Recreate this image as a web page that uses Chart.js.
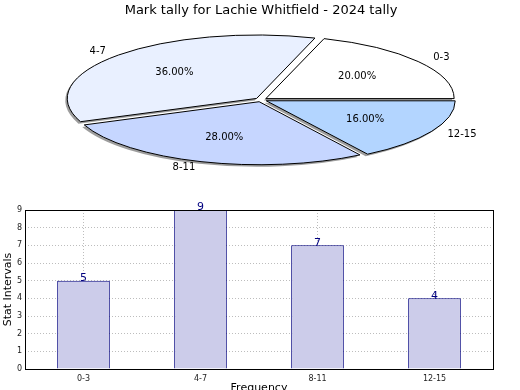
<!DOCTYPE html>
<html>
<head>
<meta charset="utf-8">
<script src="https://cdn.jsdelivr.net/npm/chart.js@4.4.1/dist/chart.umd.min.js"></script>
<style>
    html, body { margin: 0; padding: 0; background: #fff; overflow: hidden; width: 520px; height: 390px; }
    #boitePie { position: absolute; left: 0; top: 0; width: 520px; height: 190px; }
    #boiteBar { position: absolute; left: 0; top: 190px; width: 520px; height: 215px; }
</style>
</head>
<body>
<div id="boitePie"><canvas id="graphPie"></canvas></div>
<div id="boiteBar"><canvas id="graphBar"></canvas></div>
<script>
// ============================================
// Données
// ============================================
var titre = "Mark tally for Lachie Whitfield - 2024 tally";
var intervalles = ["0-3", "4-7", "8-11", "12-15"];
var frequences = [5, 9, 7, 4];
var couleursPie = ["#ffffff", "#e9f0ff", "#c6d6ff", "#b3d5ff"];
var ticksY = [0, 1, 2, 3, 4, 5, 6, 7, 8, 9];

Chart.defaults.font.family = "DejaVu Sans";
Chart.defaults.color = "#222";

var total = frequences.reduce(function (a, b) { return a + b; }, 0);
var ecrasement = 0.335; // rapport hauteur / largeur de l'ellipse

// ============================================
// Camembert aplati (ellipse) avec ombre
// ============================================
var pluginEllipse = {
    id: "ellipse",
    beforeDatasetsDraw: function (chart) {
        var ctx = chart.ctx;
        var arc = chart.getDatasetMeta(0).data[0];
        var cx = arc.x, cy = arc.y;
        var dpr = chart.currentDevicePixelRatio;
        ctx.save();
        ctx.translate(cx, cy);
        ctx.scale(1, -ecrasement);
        ctx.translate(-cx, -cy);
        ctx.shadowColor = "rgba(77,77,77,0.55)";
        ctx.shadowOffsetX = -2;
        ctx.shadowOffsetY = 2;
        ctx.shadowBlur = 0;
        // trait d'épaisseur constante malgré l'aplatissement, sans ombre
        var strokeOrig = CanvasRenderingContext2D.prototype.stroke;
        ctx.stroke = function (p) {
            this.save();
            this.setTransform(dpr, 0, 0, dpr, 0, 0);
            this.shadowColor = "rgba(0,0,0,0)";
            if (p) strokeOrig.call(this, p); else strokeOrig.call(this);
            this.restore();
        };
    },
    afterDatasetsDraw: function (chart) {
        var ctx = chart.ctx;
        delete ctx.stroke;
        ctx.restore();

        var meta = chart.getDatasetMeta(0);
        ctx.save();
        ctx.fillStyle = "#000";
        ctx.font = "10px 'DejaVu Sans'";
        ctx.textBaseline = "middle";
        meta.data.forEach(function (arc, i) {
            var milieu = (arc.startAngle + arc.endAngle) / 2;
            var decal = (arc.options.offset || 0) / 4;
            var r = arc.outerRadius;
            function position(f) {
                var px = arc.x + Math.cos(milieu) * (decal + f * r);
                var py = arc.y + Math.sin(milieu) * (decal + f * r);
                return [px, arc.y - (py - arc.y) * ecrasement];
            }
            var pl = position(1.1);
            ctx.textAlign = Math.cos(milieu) > 0 ? "left" : "right";
            ctx.fillText(intervalles[i], pl[0], pl[1]);
            var pp = position(0.6);
            ctx.textAlign = "center";
            ctx.fillText((frequences[i] / total * 100).toFixed(2) + "%", pp[0], pp[1]);
        });
        ctx.restore();
    }
};

new Chart(document.getElementById("graphPie").getContext("2d"), {
    type: "pie",
    data: {
        labels: intervalles,
        datasets: [{
            data: frequences,
            backgroundColor: couleursPie,
            borderColor: "#000",
            borderWidth: 1,
            offset: 24,
            hoverOffset: 0
        }]
    },
    options: {
        responsive: true,
        maintainAspectRatio: false,
        animation: false,
        rotation: 90,
        radius: 188,
        layout: { padding: { left: 2, right: 0, top: 0, bottom: 9 } },
        plugins: {
            legend: { display: false },
            tooltip: { enabled: false },
            title: {
                display: true,
                text: titre,
                color: "#000",
                font: { size: 13, weight: "normal" },
                padding: { top: 3, bottom: 0 }
            }
        }
    },
    plugins: [pluginEllipse]
});

// ============================================
// Histogramme
// ============================================
var pluginCadre = {
    id: "cadre",
    afterDraw: function (chart) {
        var ctx = chart.ctx;
        var a = chart.chartArea;
        ctx.save();
        ctx.strokeStyle = "#000";
        ctx.lineWidth = 1;
        ctx.strokeRect(Math.round(a.left) + 0.5, Math.round(a.top) + 0.5,
            Math.round(a.right - a.left), Math.round(a.bottom - a.top));

        // valeurs au-dessus des barres
        ctx.fillStyle = "#00007f";
        ctx.font = "11px 'DejaVu Sans'";
        ctx.textAlign = "center";
        ctx.textBaseline = "bottom";
        chart.getDatasetMeta(0).data.forEach(function (barre, i) {
            ctx.fillText(frequences[i], barre.x, barre.y + 3);
        });
        ctx.restore();
    }
};

new Chart(document.getElementById("graphBar").getContext("2d"), {
    type: "bar",
    data: {
        labels: intervalles,
        datasets: [{
            data: frequences,
            backgroundColor: "#ccccea",
            borderColor: "#00007f",
            borderWidth: 1,
            barPercentage: 0.45,
            categoryPercentage: 1
        }]
    },
    options: {
        responsive: true,
        maintainAspectRatio: false,
        animation: false,
        layout: { padding: { left: 0, right: 27, top: 20, bottom: 0 } },
        plugins: {
            legend: { display: false },
            tooltip: { enabled: false }
        },
        scales: {
            x: {
                z: 1,
                grid: { offset: false, color: "#bdbdbd", drawTicks: false },
                border: { display: false, dash: [1, 2] },
                ticks: { font: { size: 8 }, padding: 5 },
                title: { display: true, text: "Frequency", color: "#000", font: { size: 11 }, padding: { top: 0, bottom: 10 } },
                afterFit: function (scale) { scale.height = 36; }
            },
            y: {
                z: 1,
                min: ticksY[0],
                max: ticksY[ticksY.length - 1],
                grid: { color: "#bdbdbd", drawTicks: false },
                border: { display: false, dash: [1, 2] },
                ticks: { stepSize: 1, font: { size: 8 }, padding: 3 },
                title: { display: true, text: "Stat Intervals", color: "#000", font: { size: 11 }, padding: { top: 2, bottom: 0 } },
                afterFit: function (scale) { scale.width = 25; }
            }
        }
    },
    plugins: [pluginCadre]
});
</script>
</body>
</html>
